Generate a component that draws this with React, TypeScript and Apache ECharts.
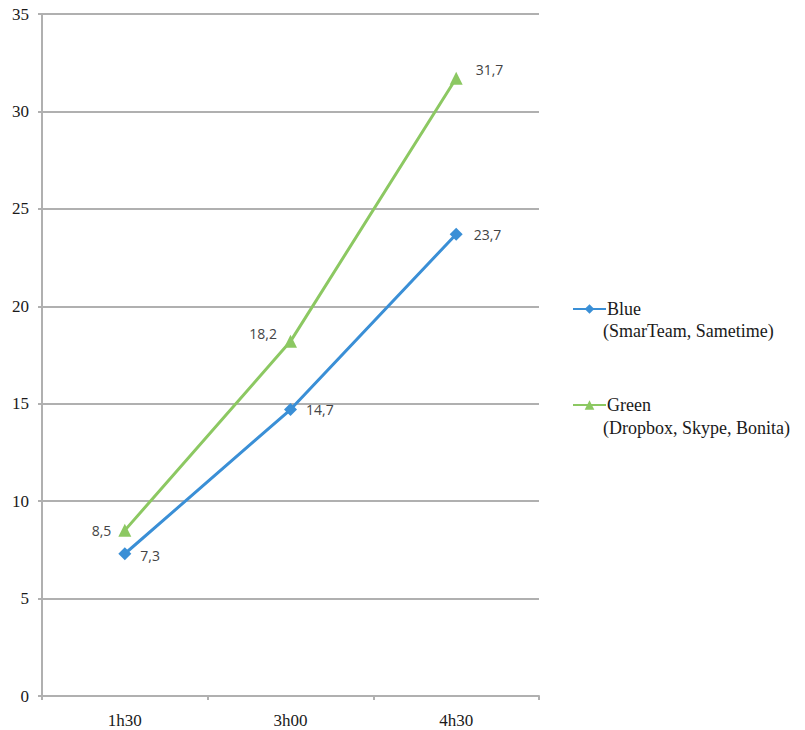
import React, { useEffect, useRef } from "react";
import * as echarts from "echarts";

const categories = ["1h30", "3h00", "4h30"];
const blueValues = [7.3, 14.7, 23.7];
const greenValues = [8.5, 18.2, 31.7];
const yTicks = [0, 5, 10, 15, 20, 25, 30, 35];
const blueName = "Blue";
const blueSub = "(SmarTeam, Sametime)";
const greenName = "Green";
const greenSub = "(Dropbox, Skype, Bonita)";

const blueLabelPos = [
  { position: "right", offset: [4, 2] },
  { position: "right", offset: [4, 0] },
  { position: "right", offset: [6, 0] },
];
const greenLabelPos = [
  { position: "left", offset: [-2, 0] },
  { position: "left", offset: [-2, -8] },
  { position: "right", offset: [8, -9] },
];

const fmt = (v: number) => v.toFixed(1).replace(".", ",");

export default function App() {
  const ref = useRef<HTMLDivElement>(null);
  useEffect(() => {
    if (!ref.current) return;
    const chart = echarts.init(ref.current, null, { renderer: "svg" });
    const labelStyle = {
      show: true,
      fontFamily: "Open Sans",
      fontSize: 14,
      color: "#444",
      formatter: (p: any) => fmt(p.value),
    };
    const serif = "serif";
    chart.setOption({
      animation: false,
      backgroundColor: "#fff",
      textStyle: { fontFamily: serif },
      grid: { left: 42, right: 266, top: 14, bottom: 34 },
      xAxis: {
        type: "category",
        data: categories,
        boundaryGap: true,
        axisLine: { lineStyle: { color: "#b0b0b0", width: 2 } },
        axisTick: { show: true, length: 4, lineStyle: { color: "#b0b0b0", width: 2 } },
        axisLabel: {
          margin: 16,
          fontFamily: serif,
          fontSize: 17,
          color: "#1a1a1a",
        },
      },
      yAxis: {
        type: "value",
        min: yTicks[0],
        max: yTicks[yTicks.length - 1],
        interval: 5,
        axisLine: { show: true, lineStyle: { color: "#b0b0b0", width: 2 } },
        axisTick: { show: true, length: 4, lineStyle: { color: "#b0b0b0", width: 2 } },
        splitLine: { lineStyle: { color: "#b0b0b0", width: 2 } },
        axisLabel: {
          margin: 13,
          fontFamily: serif,
          fontSize: 17,
          color: "#1a1a1a",
        },
      },
      legend: {
        orient: "vertical",
        left: 567,
        top: 295,
        itemWidth: 33,
        itemHeight: 12,
        itemGap: 78,
        textStyle: { fontFamily: serif, fontSize: 18, color: "#1a1a1a", padding: [0, 0, 0, -4] },
        data: [blueName, greenName],
      },
      graphic: [
        {
          type: "text",
          left: 603,
          top: 322,
          style: { text: blueSub, fontFamily: serif, fontSize: 18, fill: "#1a1a1a" },
        },
        {
          type: "text",
          left: 603,
          top: 419,
          style: { text: greenSub, fontFamily: serif, fontSize: 18, fill: "#1a1a1a" },
        },
      ],
      series: [
        {
          name: blueName,
          type: "line",
          data: blueValues.map((v, i) => ({ value: v, label: { ...blueLabelPos[i] } })),
          color: "#3a8fd6",
          lineStyle: { width: 3 },
          symbol: "diamond",
          symbolSize: 13,
          label: labelStyle,
        },
        {
          name: greenName,
          type: "line",
          data: greenValues.map((v, i) => ({ value: v, label: { ...greenLabelPos[i] } })),
          color: "#8cc862",
          lineStyle: { width: 3 },
          symbol: "triangle",
          symbolSize: 13,
          label: labelStyle,
        },
      ],
    });
    return () => chart.dispose();
  }, []);
  return (
    <div
      ref={ref}
      style={{ position: "absolute", left: 0, top: 0, width: 805, height: 730 }}
    />
  );
}
